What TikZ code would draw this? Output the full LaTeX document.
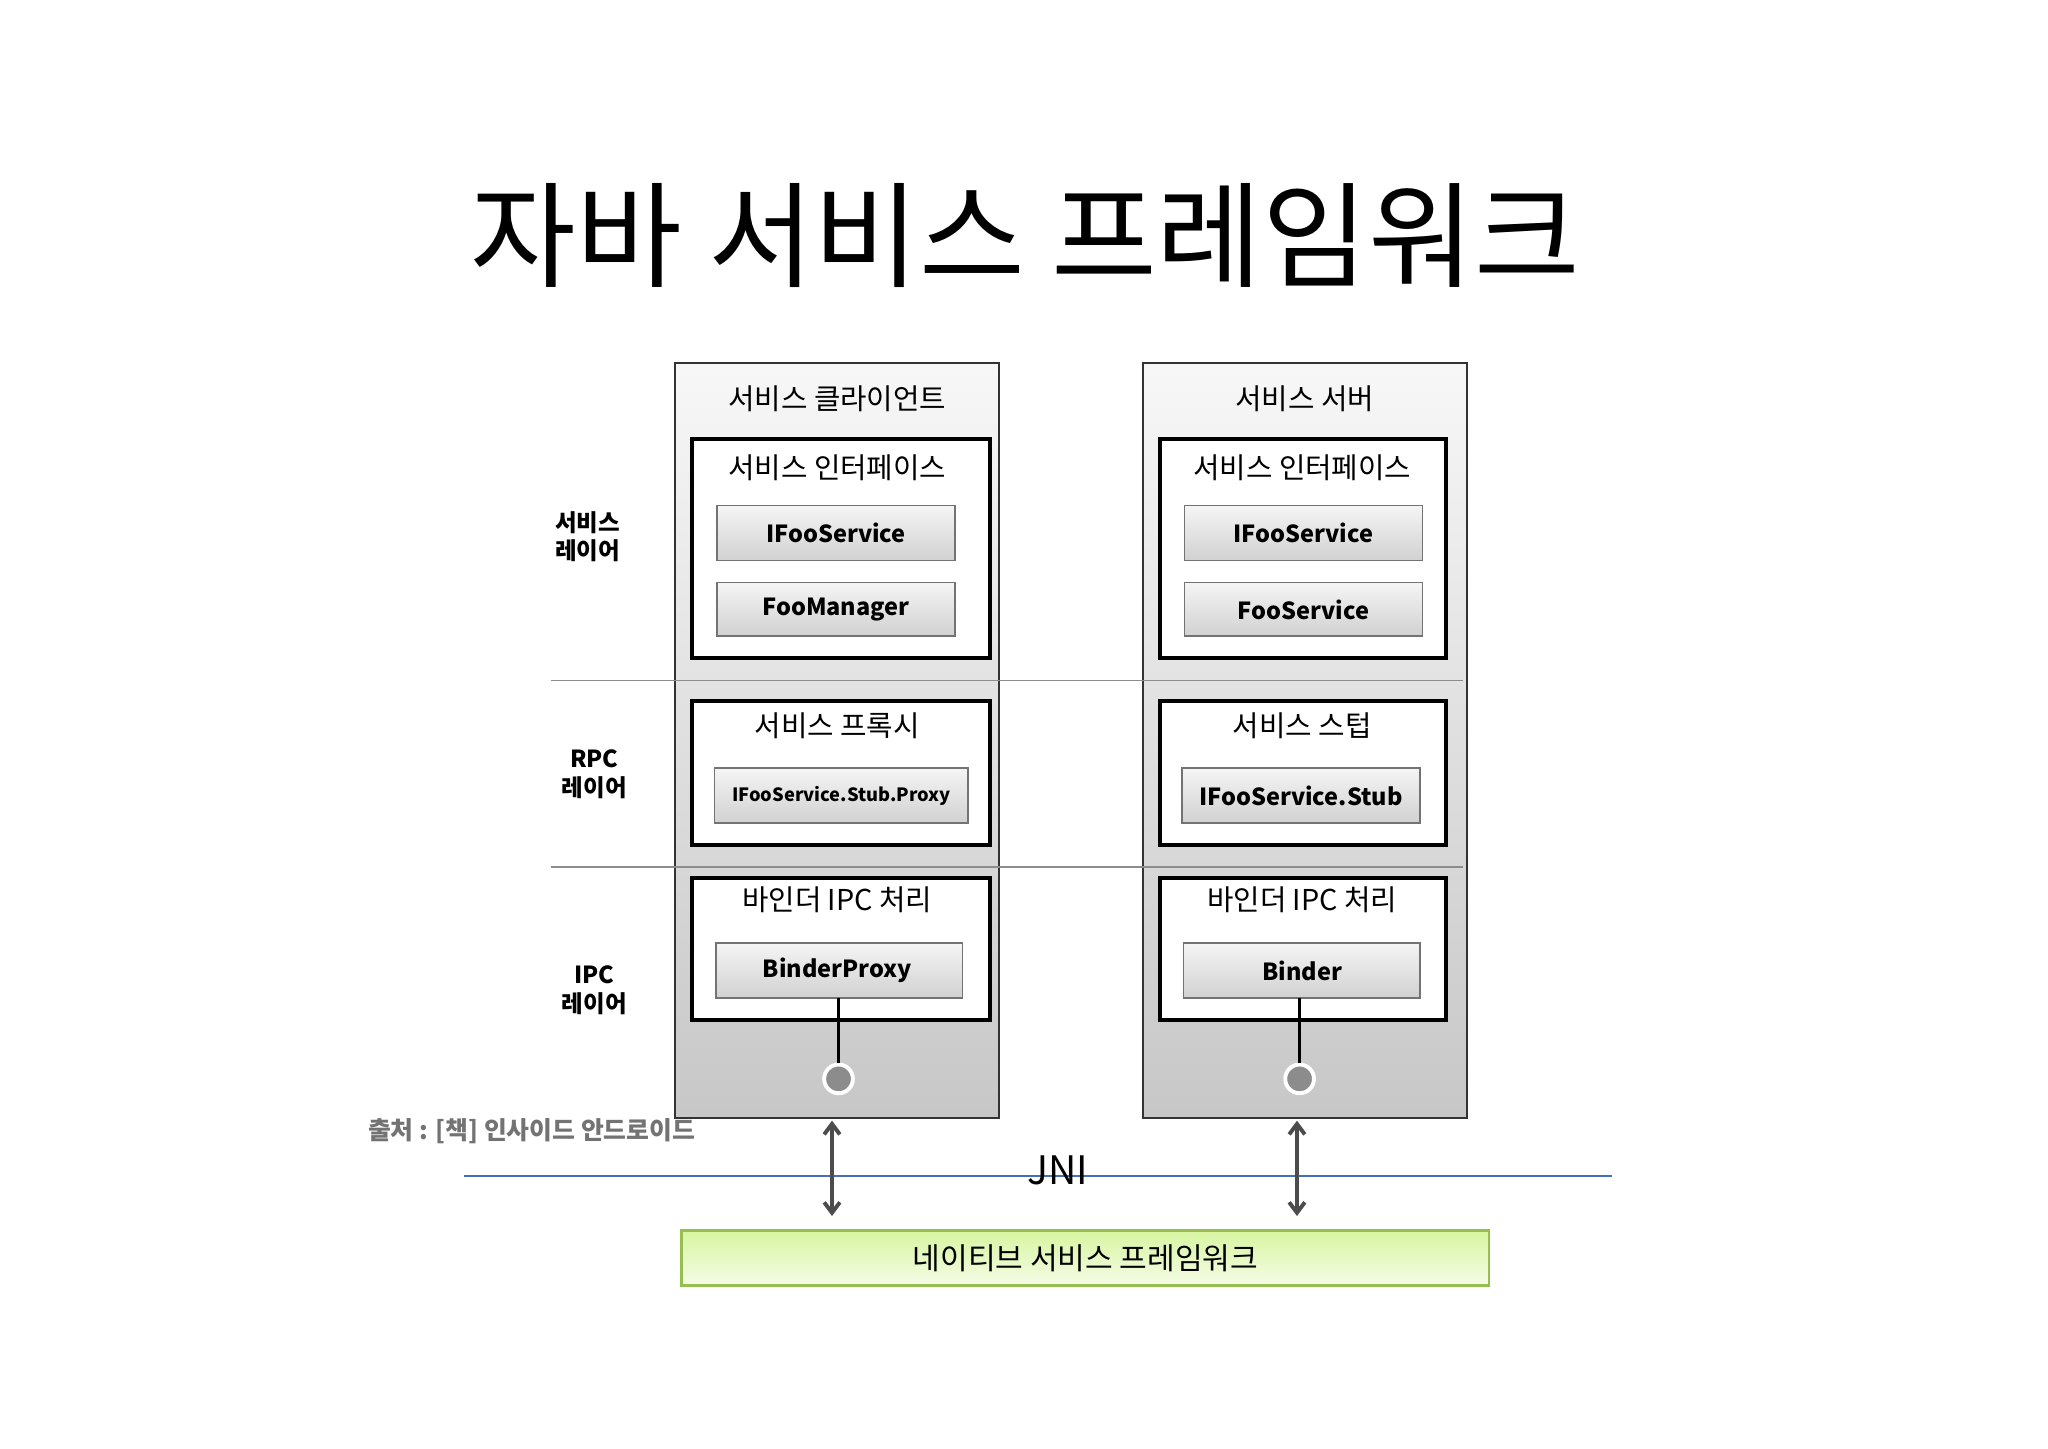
\documentclass[tikz,border=0pt]{standalone}
\usepackage{fontspec}
\setmainfont{Noto Sans CJK KR}
\usetikzlibrary{arrows.meta}
\tikzset{
 col/.style={draw=black!80,line width=1.5pt,top color=black!3,bottom color=black!22},
 inner/.style={draw=black,line width=3pt,fill=white},
 btnbox/.style={draw=black!55,line width=1.2pt,top color=black!4,bottom color=black!18},
 ttl/.style={font=\fontsize{22}{26}\selectfont},
 btxt/.style={font=\fontsize{18}{22}\selectfont\bfseries},
 lay/.style={font=\fontsize{18}{22}\selectfont\bfseries,align=center},
 darr/.style={{Straight Barb[length=8pt,width=12pt]}-{Straight Barb[length=8pt,width=12pt]},line width=3pt,draw=black!70}
}
\begin{document}
\begin{tikzpicture}[x=1pt,y=-1pt]
\useasboundingbox (0,0) rectangle (1568,1109);
\node (title) at (785,180) {\fontsize{88}{96}\selectfont 자바 서비스 프레임워크};
\foreach \n/\x/\h/\a/\b/\p/\q/\r/\bl/\bw/\iw/\qw/\rw/\m in {L/517/서비스 클라이언트/IFooService/FooManager/서비스 프록시/IFooService.Stub.Proxy/BinderProxy/642/0/228/194/189/124,R/875/서비스 서버/IFooService/FooService/서비스 스텁/IFooService.Stub/Binder/995/1/219/182/181/122}{
 \draw[col] (\x,278) rectangle ++(248,578);
 \node[ttl] (hd\n) at (\x+124,305) {\h};
 \draw[inner] (\x+13,336) rectangle ++(\iw,168);
 \node[ttl] (si\n) at (\x+\m,358) {서비스 인터페이스};
 \draw[btnbox] (\x+32,387) rectangle ++(182,42);
 \node[btxt] (a\n) at (\x+123,408) {\a};
 \draw[btnbox] (\x+32,446) rectangle ++(182,41);
 \node[btxt] (b\n) at (\x+123,467) {\b};
 \draw[inner] (\x+13,537) rectangle ++(\iw,110);
 \node[ttl] (p\n) at (\x+\m,556) {\p};
 \draw[btnbox] (\x+30,588) rectangle ++(\qw,42);
 \ifnum\bw=0 \node[font=\fontsize{14}{16}\selectfont\bfseries] (q\n) at (\x+127,609) {\q};
 \else \node[btxt] (q\n) at (\x+121,609) {\q}; \fi
 \draw[inner] (\x+13,672) rectangle ++(\iw,109);
 \node[ttl] (i\n) at (\x+\m,689) {바인더 IPC 처리};
 \draw[btnbox] (\x+31,722) rectangle ++(\rw,42);
 \node[btxt] (r\n) at (\x+\m,743) {\r};
 \coordinate (rb\n) at (\bl,764);
 \node[circle,draw=white,line width=3pt,fill=black!45,minimum size=22pt,inner sep=0] (c\n) at (\bl,826) {};
 \draw[line width=2.5pt] (rb\n) -- (c\n.north);
}
\draw[black!45,line width=1.5pt] (422,521) -- (1120,521);
\draw[black!45,line width=1.5pt] (422,664) -- (1120,664);
\node[lay] (l1) at (450,411) {서비스\\레이어};
\node[lay] (l2) at (455,593) {RPC\\레이어};
\node[lay] (l3) at (455,758) {IPC\\레이어};
\node[font=\fontsize{19}{21}\selectfont\bfseries,text=black!55] (src) at (407,866) {출처 : [책] 인사이드 안드로이드};
\draw[draw={rgb,255:red,70;green,110;blue,190},line width=1.5pt] (355,900) -- (1234,900);
\node[font=\fontsize{30}{34}\selectfont] (jni) at (810,896) {JNI};
\node[draw={rgb,255:red,150;green,190;blue,80},line width=2pt,top color={rgb,255:red,215;green,245;blue,160},bottom color={rgb,255:red,245;green,252;blue,230},minimum width=618pt,minimum height=42pt,font=\fontsize{23}{27}\selectfont] (nat) at (831,963) {네이티브 서비스 프레임워크};
\coordinate (t1) at (637,858); \coordinate (b1) at (637,931);
\coordinate (t2) at (993,858); \coordinate (b2) at (993,931);
\draw[darr] (t1) -- (b1);
\draw[darr] (t2) -- (b2);
\end{tikzpicture}
\end{document}
